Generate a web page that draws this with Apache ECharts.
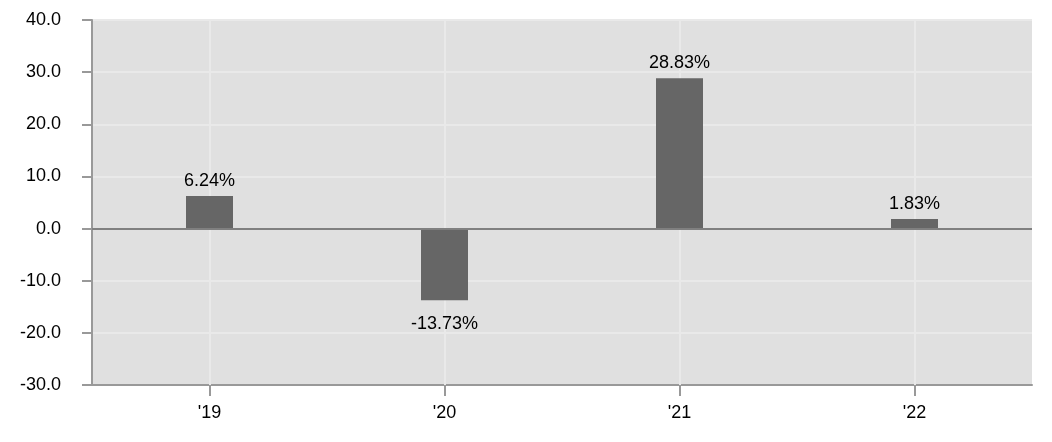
<!DOCTYPE html>
<html><head><meta charset="utf-8">
<script src="https://cdn.jsdelivr.net/npm/echarts@6/dist/echarts.min.js"></script>
<style>html,body{margin:0;padding:0;background:#fff}#c{width:1052px;height:442px}</style>
</head><body><div id="c"></div>
<script>
var categories = ["'19", "'20", "'21", "'22"];
var values = [6.24, -13.73, 28.83, 1.83];
var yTicks = { min: -30, max: 40, interval: 10 };

var chart = echarts.init(document.getElementById('c'), null, {renderer: 'canvas'});
var font = '"Liberation Sans", Arial, Helvetica, sans-serif';
var gridColor = '#e9e9e9';
chart.setOption({
  animation: false,
  grid: { left: 92, right: 20, top: 20, bottom: 57, show: true, backgroundColor: '#e0e0e0', borderWidth: 0 },
  xAxis: {
    type: 'category', data: categories, boundaryGap: true,
    axisLine: { onZero: false, lineStyle: { color: '#999', width: 2 } },
    axisTick: { show: true, alignWithLabel: true, length: 11, lineStyle: { color: '#999', width: 2 } },
    axisLabel: { color: '#000', fontSize: 18, fontFamily: font, margin: 19 },
    splitLine: { show: false }
  },
  yAxis: {
    type: 'value', min: yTicks.min, max: yTicks.max, interval: yTicks.interval,
    axisLine: { show: true, lineStyle: { color: '#999', width: 2 } },
    axisTick: { show: true, length: 10, lineStyle: { color: '#999', width: 2 } },
    axisLabel: { color: '#000', fontSize: 18, fontFamily: font, margin: 31, padding: [6, 0, 0, 0],
      formatter: function(v){ return v.toFixed(1); } },
    splitLine: { show: true, lineStyle: { color: gridColor, width: 2 } }
  },
  series: [{
    type: 'line', z: 1, data: [], silent: true,
    markLine: { silent: true, symbol: 'none', label: { show: false }, z: 1,
      lineStyle: { color: gridColor, width: 2, type: 'solid' },
      data: categories.map(function(c){ return { xAxis: c }; }) }
  }, {
    type: 'bar', barWidth: 47, z: 3,
    itemStyle: { color: '#666666' },
    data: values.map(function(v){
      return { value: v, label: { position: v < 0 ? 'bottom' : 'top', distance: v < 0 ? 15 : 6 } };
    }),
    label: { show: true, color: '#000', fontSize: 18, fontFamily: font,
      formatter: function(p){ return p.value.toFixed(2) + '%'; } },
    markLine: { silent: true, symbol: 'none', label: { show: false },
      lineStyle: { color: '#808080', width: 2, type: 'solid' },
      data: [{ yAxis: 0 }] }
  }]
});
</script></body></html>
